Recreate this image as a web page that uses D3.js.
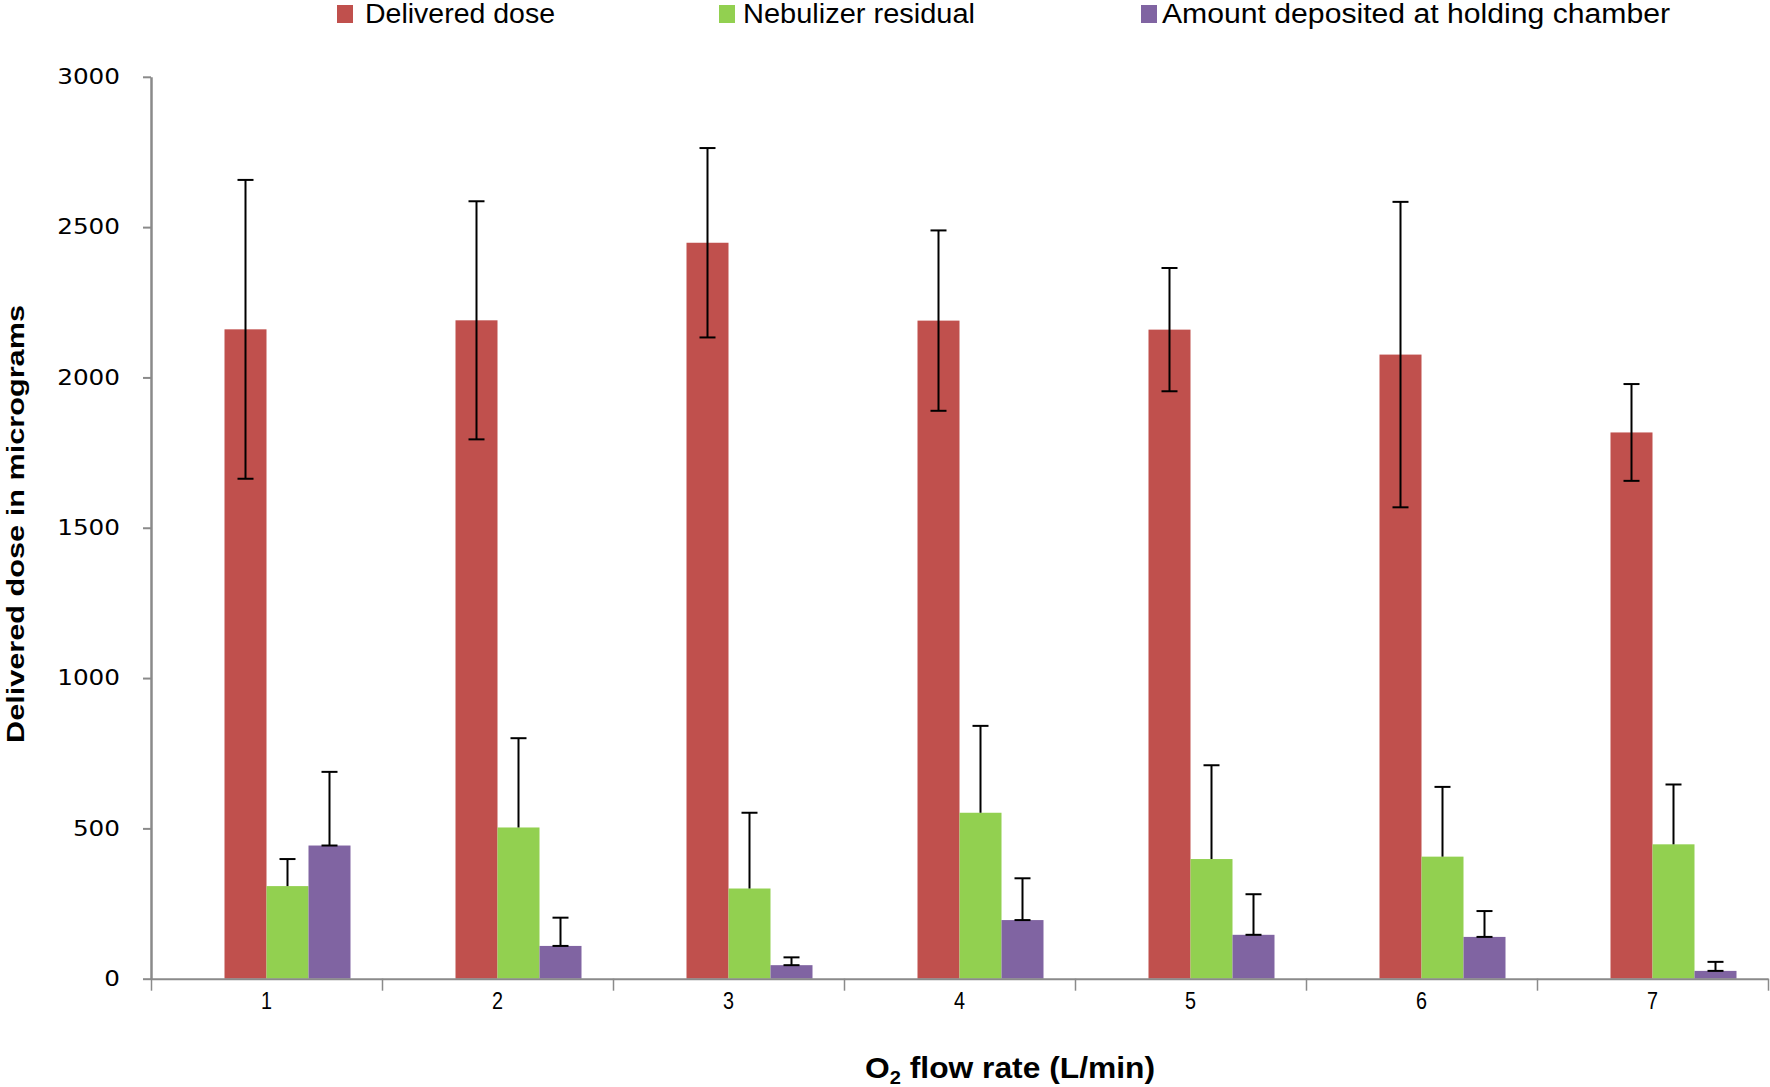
<!DOCTYPE html>
<html><head><meta charset="utf-8">
<script src="https://cdn.jsdelivr.net/npm/d3@7"></script>
<style>body{margin:0;background:#fff}</style>
</head><body>
<svg id="chart" width="1770" height="1087"></svg>
<script>
// ---------- data ----------
const categories = ["1","2","3","4","5","6","7"];
const seriesNames = ["Delivered dose","Nebulizer residual","Amount deposited at holding chamber"];
// the original chart reserves an empty first slot in each group
const seriesSlots = ["(empty)","Delivered dose","Nebulizer residual","Amount deposited at holding chamber"];
const deliveredDose = [2160, 2190, 2448, 2189, 2159, 2076, 1817];
const deliveredErr  = [497, 396, 315, 300, 205, 508, 161];
const nebulizerResidual = [308, 503, 300, 552, 398, 406, 447];
const nebulizerErr      = [90, 297, 252, 289, 312, 232, 199];
const holdingChamber = [443, 109, 45, 195, 146, 139, 26];
const holdingErr     = [245, 94, 26, 139, 135, 86, 30];
const yTicks = [0, 500, 1000, 1500, 2000, 2500, 3000];
const xTitle = ["O", "2", " flow rate  (L/min)"];
const yTitle = "Delivered dose in micrograms";

// ---------- styles ----------
const colors = ["#C0504D", "#92D050", "#8064A2"];
const errMode = ["both", "plus", "plusBase"];
const seriesVals = [deliveredDose, nebulizerResidual, holdingChamber];
const seriesErrs = [deliveredErr, nebulizerErr, holdingErr];

const svg = d3.select("#chart");
const mLeft = 151, mRight = 1768, mTop = 76.8, mBottom = 978.7;

const y = d3.scaleLinear().domain([0, 3000]).range([mBottom, mTop]);
const x0 = d3.scaleBand().domain(categories).range([mLeft, mRight]).padding(0);
const x1 = d3.scaleBand().domain(seriesSlots).range([0, x0.bandwidth()])
  .paddingInner(0).paddingOuter(0.75);
const xb = d3.scaleLinear().domain([0, categories.length]).range([mLeft, mRight]);

const axisColor = "#8a8a8a";
const narrow = "'Liberation Sans Narrow', 'Liberation Sans', sans-serif";

// bars
const plot = svg.append("g");
seriesNames.forEach((name, si) => {
  const g = plot.append("g");
  g.selectAll("rect").data(categories).join("rect")
    .attr("x", c => x0(c) + x1(name))
    .attr("y", (c, i) => y(seriesVals[si][i]))
    .attr("width", x1.bandwidth())
    .attr("height", (c, i) => y(0) - y(seriesVals[si][i]))
    .attr("fill", colors[si]);
});

// error bars
const capW = 16;
seriesNames.forEach((name, si) => {
  const g = plot.append("g").attr("stroke", "#000").attr("stroke-width", 2).attr("fill", "none");
  categories.forEach((c, i) => {
    const cx = x0(c) + x1(name) + x1.bandwidth() / 2;
    const v = seriesVals[si][i], e = seriesErrs[si][i];
    const yTop = y(v + e);
    const yBot = errMode[si] === "both" ? y(v - e) : y(v);
    g.append("line").attr("x1", cx).attr("x2", cx).attr("y1", yTop).attr("y2", yBot);
    g.append("line").attr("x1", cx - capW/2).attr("x2", cx + capW/2).attr("y1", yTop).attr("y2", yTop);
    if (errMode[si] !== "plus") {
      g.append("line").attr("x1", cx - capW/2).attr("x2", cx + capW/2).attr("y1", yBot).attr("y2", yBot);
    }
  });
});

// y axis
const yAxis = svg.append("g").attr("transform", `translate(${mLeft},0)`)
  .call(d3.axisLeft(y).tickValues(yTicks).tickFormat(d3.format("d"))
    .tickSize(8).tickSizeOuter(0).tickPadding(23));
yAxis.select(".domain").attr("stroke", axisColor).attr("stroke-width", 2.5);
yAxis.selectAll(".tick line").attr("stroke", axisColor).attr("stroke-width", 2);
yAxis.selectAll(".tick text")
  .attr("font-family", "'DejaVu Sans', sans-serif").attr("font-size", 21).attr("fill", "#000")
  .attr("textLength", d => String(d).length * 15.7).attr("lengthAdjust", "spacingAndGlyphs");

// x axis boundary ticks
const xAxis = svg.append("g").attr("transform", `translate(0,${mBottom})`)
  .call(d3.axisBottom(xb).tickValues(d3.range(categories.length + 1)).tickSize(12).tickSizeOuter(0).tickFormat(""));
xAxis.select(".domain").attr("stroke", axisColor).attr("stroke-width", 2);
xAxis.selectAll(".tick line").attr("stroke", axisColor).attr("stroke-width", 1.5);

// x labels
const xLab = svg.append("g").attr("transform", `translate(0,${mBottom})`)
  .call(d3.axisBottom(x0).tickSize(0).tickPadding(14));
xLab.select(".domain").remove();
xLab.selectAll(".tick text")
  .attr("font-family", narrow)
  .attr("font-size", 23).attr("fill", "#000")
  .attr("textLength", 11).attr("lengthAdjust", "spacingAndGlyphs");

// y title
svg.append("text")
  .attr("transform", `translate(24,524) rotate(-90)`)
  .attr("text-anchor", "middle")
  .attr("font-family", narrow)
  .attr("font-weight", "bold").attr("font-size", 24)
  .attr("textLength", 438).attr("lengthAdjust", "spacingAndGlyphs")
  .text(yTitle);

// x title
const xt = svg.append("text")
  .attr("x", 865).attr("y", 1078)
  .attr("font-family", narrow)
  .attr("font-weight", "bold").attr("font-size", 30)
  .attr("textLength", 290).attr("lengthAdjust", "spacingAndGlyphs");
xt.append("tspan").text(xTitle[0]);
xt.append("tspan").attr("dy", 6).attr("font-size", 19).text(xTitle[1]);
xt.append("tspan").attr("dy", -6).text(xTitle[2]);

// legend
const legendSquareX = [337, 719, 1141];
const legendTextX = [365, 743, 1162];
const legendTextW = [190, 232, 508];
const leg = svg.append("g");
seriesNames.forEach((name, si) => {
  leg.append("rect").attr("x", legendSquareX[si]).attr("y", 5).attr("width", 16).attr("height", 18)
    .attr("fill", colors[si]);
  leg.append("text").attr("x", legendTextX[si]).attr("y", 23)
    .attr("font-family", narrow)
    .attr("font-size", 27).attr("fill", "#000")
    .attr("textLength", legendTextW[si]).attr("lengthAdjust", "spacingAndGlyphs")
    .text(name);
});
</script>
</body></html>
